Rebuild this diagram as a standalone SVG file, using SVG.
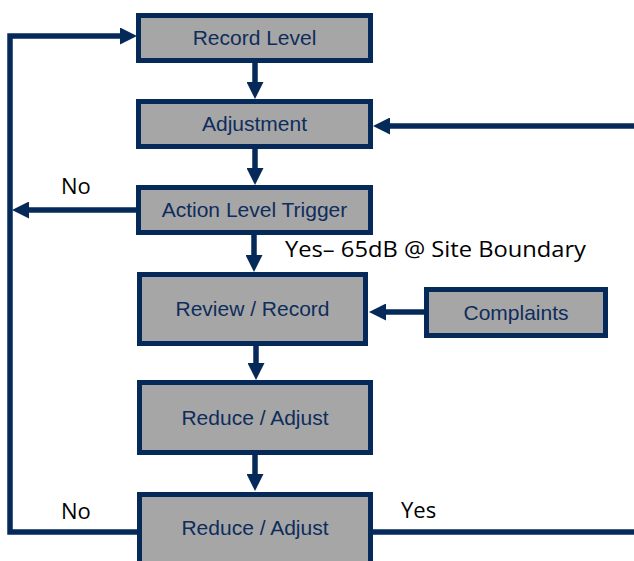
<svg xmlns="http://www.w3.org/2000/svg" width="634" height="561" viewBox="0 0 634 561">
<style>
.box{fill:#A6A6A6;stroke:#052A5A;stroke-width:5}
.bt{font-family:"Liberation Sans",Arial,sans-serif;font-size:21px;fill:#0E2D5C;text-anchor:middle}
.lbl{font-family:"Open Sans","Liberation Sans",sans-serif;font-size:22px;fill:#000}
.c{fill:none;stroke:#052A5A;stroke-width:5.5}
</style>
<defs>
<marker id="ah" markerUnits="userSpaceOnUse" markerWidth="17" markerHeight="17" refX="0" refY="8.5" orient="auto" viewBox="0 0 17 17">
<path d="M0,0 L17,8.5 L0,17 Z" fill="#052A5A"/>
</marker>
</defs>
<g id="connectors">
<path class="c" d="M137,532 L10,532 L10,36 L120,36" marker-end="url(#ah)"/>
<path class="c" d="M136,210 L29,210" marker-end="url(#ah)"/>
<path class="c" d="M255,63 L255,82" marker-end="url(#ah)"/>
<path class="c" d="M255,149 L255,168" marker-end="url(#ah)"/>
<path class="c" d="M254,235 L254,255" marker-end="url(#ah)"/>
<path class="c" d="M256,346 L256,363" marker-end="url(#ah)"/>
<path class="c" d="M255,455 L255,474" marker-end="url(#ah)"/>
<path class="c" d="M424,312 L386,312" marker-end="url(#ah)"/>
<path class="c" d="M634,126 L390,126" marker-end="url(#ah)"/>
<path class="c" d="M373,532 L634,532"/>
</g>
<g id="labels">
<text class="lbl" x="61" y="194">No</text>
<text class="lbl" x="285" y="257" textLength="301" lengthAdjust="spacingAndGlyphs">Yes– 65dB @ Site Boundary</text>
<text class="lbl" x="61" y="519">No</text>
<text class="lbl" x="401" y="518">Yes</text>
</g>
<g id="record-level">
<rect class="box" x="138.5" y="15.5" width="232" height="45"/>
<text class="bt" x="254.5" y="45">Record Level</text>
</g>
<g id="adjustment">
<rect class="box" x="138.5" y="101.5" width="232" height="45"/>
<text class="bt" x="254.5" y="131">Adjustment</text>
</g>
<g id="action-level-trigger">
<rect class="box" x="138.5" y="187.5" width="232" height="45"/>
<text class="bt" x="254.5" y="217">Action Level Trigger</text>
</g>
<g id="review-record">
<rect class="box" x="139.5" y="274.5" width="226" height="69"/>
<text class="bt" x="252.5" y="316">Review / Record</text>
</g>
<g id="complaints">
<rect class="box" x="426.5" y="289.5" width="179" height="46"/>
<text class="bt" x="516" y="320">Complaints</text>
</g>
<g id="reduce-adjust-1">
<rect class="box" x="139.5" y="382.5" width="231" height="70"/>
<text class="bt" x="255" y="425">Reduce / Adjust</text>
</g>
<g id="reduce-adjust-2">
<rect class="box" x="139.5" y="494.5" width="231" height="72"/>
<text class="bt" x="255" y="535">Reduce / Adjust</text>
</g>
</svg>
